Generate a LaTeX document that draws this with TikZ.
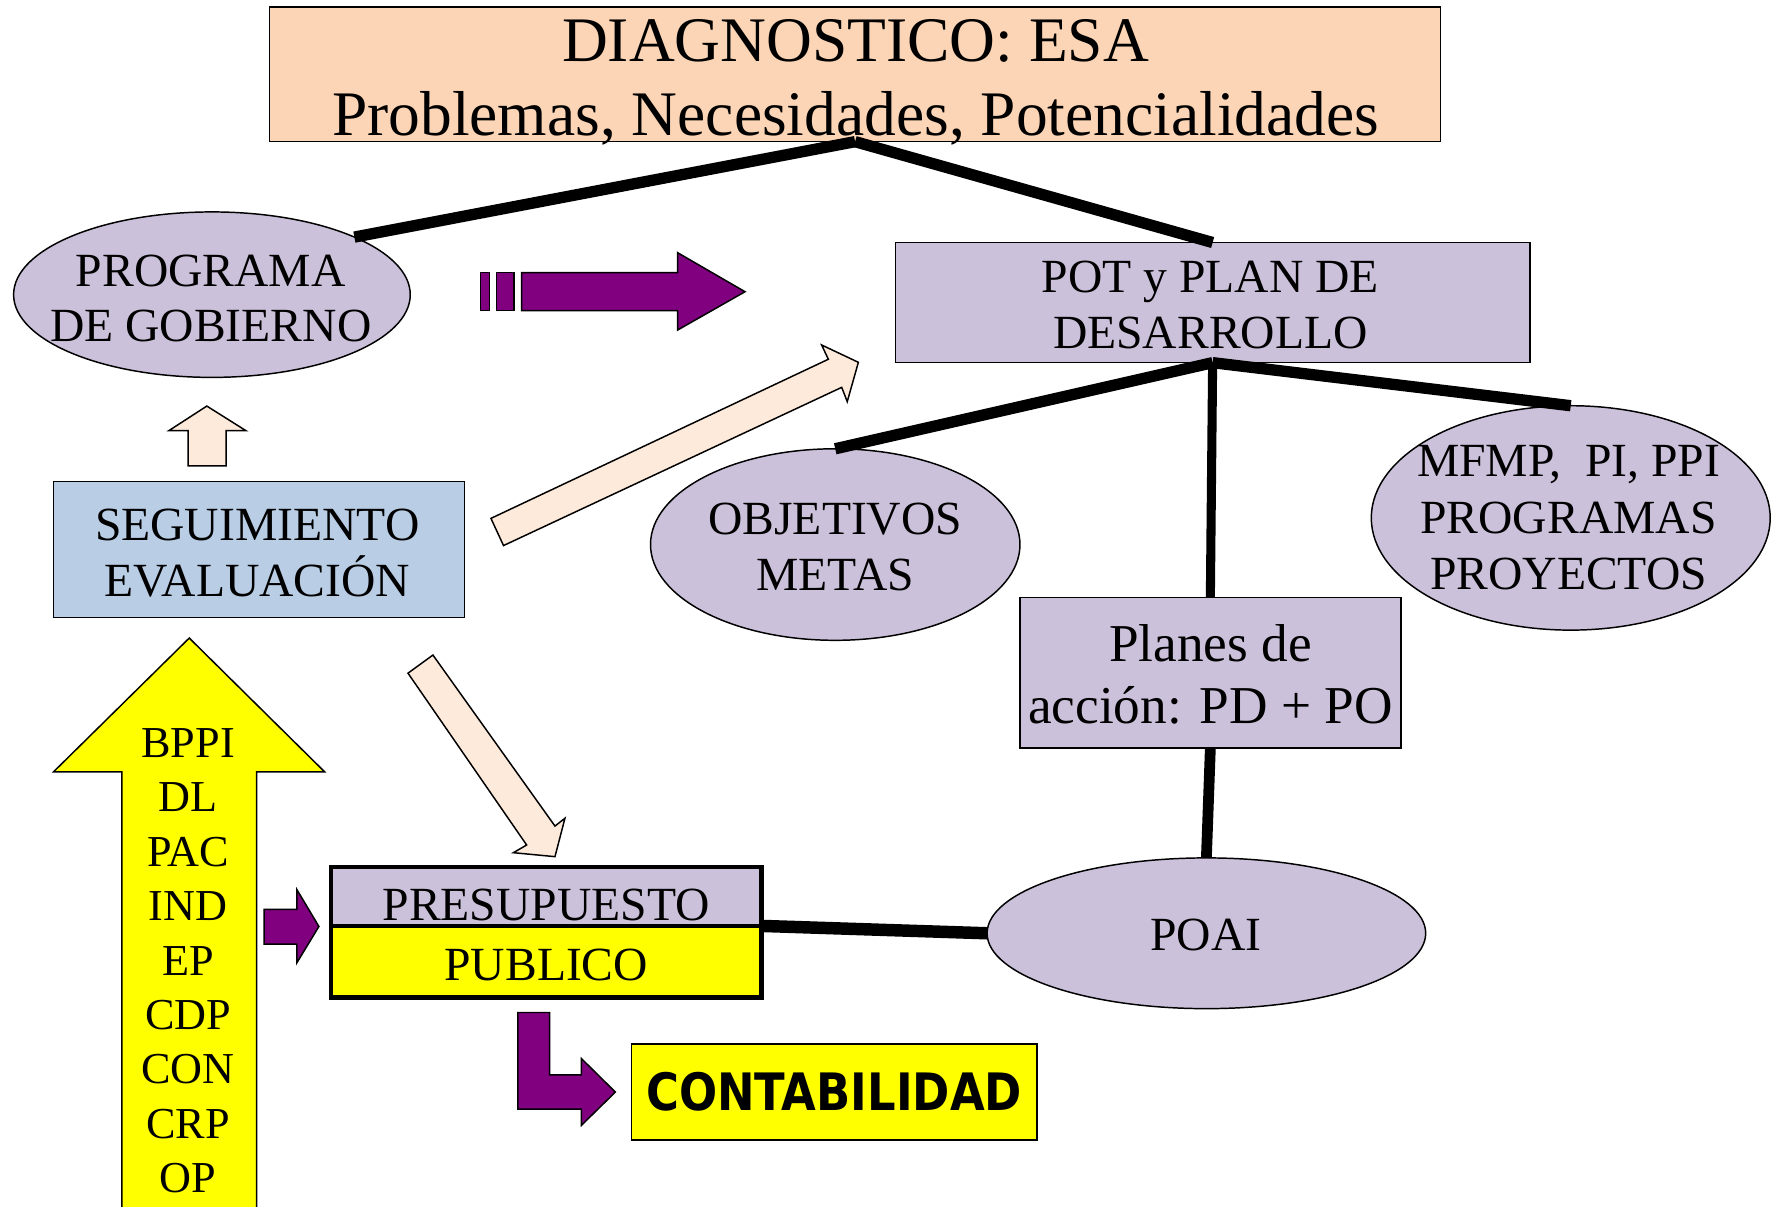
\documentclass[tikz,border=0pt]{standalone}
\usepackage{fontspec}
\usepackage{graphicx}
\setmainfont{Liberation Serif}
\newfontfamily\contfont{DejaVu Sans}
\usetikzlibrary{shapes.geometric}
\definecolor{peach}{HTML}{FBD5B5}
\definecolor{lav}{HTML}{CCC1DA}
\definecolor{lblue}{HTML}{B9CDE5}
\definecolor{pale}{HTML}{FDEADA}
\definecolor{purp}{HTML}{800080}
\definecolor{yel}{HTML}{FFFF00}
\tikzset{
  box/.style={rectangle, draw=black, line width=1.3pt, inner sep=0pt, outer sep=0pt},
  ell/.style={ellipse, draw=black, line width=1.3pt, fill=lav, inner sep=0pt, outer sep=0pt},
  txt/.style={inner sep=0pt, outer sep=0pt, align=center},
  conn/.style={line width=10pt, draw=black},
  connthin/.style={line width=8pt, draw=black},
  blockarrow/.style={draw=black, line width=1.3pt, line join=miter},
  fbig/.style={font=\fontsize{56}{65}\selectfont},
  fmid/.style={font=\fontsize{42}{50}\selectfont},
  flist/.style={font=\fontsize{39}{48}\selectfont},
}
\begin{document}
\begin{tikzpicture}[x=1pt,y=-1pt]
\useasboundingbox (0,0) rectangle (1568,1065);

% ---------- shapes ----------
\node[box, fill=peach, minimum width=1033pt, minimum height=119pt] (diag) at (754.5,65.5) {};
\node[ell, minimum width=350pt, minimum height=146pt] (prog) at (187,260) {};
\node[box, fill=lav, minimum width=560pt, minimum height=106pt] (pot) at (1070,267) {};
\node[ell, minimum width=326pt, minimum height=169pt] (obj) at (737,480.5) {};
\node[ell, minimum width=352pt, minimum height=198pt] (mfmp) at (1386,457) {};
\node[box, fill=lav, minimum width=336pt, minimum height=133pt] (planes) at (1068,593.5) {};
\node[ell, minimum width=387pt, minimum height=133pt] (poai) at (1064.5,823.5) {};
\node[box, fill=lblue, minimum width=363pt, minimum height=120pt] (seg) at (228.5,485) {};
\node[box, fill=lav, line width=4pt, minimum width=380pt, minimum height=52pt] (presA) at (482,791) {};
\node[box, fill=yel, line width=4pt, minimum width=380pt, minimum height=63pt] (presB) at (482,848.5) {};
\node[box, fill=yel, minimum width=358pt, minimum height=85pt,
      font=\contfont\bfseries\fontsize{45.5}{50}\selectfont] (cont) at (736,963.5) {\scalebox{0.87}[1]{CONTABILIDAD}};

% ---------- block arrows ----------
% striped purple arrow
\filldraw[blockarrow, fill=purp] (424,240.5) rectangle (432,274);
\filldraw[blockarrow, fill=purp] (438,240.5) rectangle (453.5,274);
\filldraw[blockarrow, fill=purp] (460.3,240.5) -- (598,240.5) -- (598,223) -- (657.4,257.4)
  -- (598,291.2) -- (598,274) -- (460.3,274) -- cycle;
% small up arrow above SEGUIMIENTO
\filldraw[blockarrow, fill=pale] (182.5,358.3) -- (217,380) -- (199.6,380) -- (199.6,411)
  -- (166,411) -- (166,380) -- (149,380) -- cycle;
% diagonal arrow to POT
\filldraw[blockarrow, fill=pale] (433.2,457.4) -- (730.9,317) -- (725,304.4) -- (757.4,319.7)
  -- (747.6,354.4) -- (742.7,341.8) -- (444.3,481.4) -- cycle;
% diagonal arrow to PRESUPUESTO
\filldraw[blockarrow, fill=pale] (360,594) -- (464.7,745.6) -- (453,752.4) -- (489.7,755.9)
  -- (498.5,722) -- (489.7,728.9) -- (382,578) -- cycle;
% big yellow arrow
\filldraw[blockarrow, fill=yel] (167,563) -- (286.4,681) -- (226.5,681) -- (226.5,1080)
  -- (107.5,1080) -- (107.5,681) -- (47.3,681) -- cycle;
% small purple arrow to PRESUPUESTO
\filldraw[blockarrow, fill=purp] (233,802.5) -- (262,802.5) -- (262,785) -- (281.4,817.5)
  -- (262,849.5) -- (262,833) -- (233,833) -- cycle;
% L-shaped purple arrow to CONTABILIDAD
\filldraw[blockarrow, fill=purp] (457,893.4) -- (485,893.4) -- (485,948.5) -- (513,948.5)
  -- (513,934) -- (543,963.6) -- (513,993) -- (513,978.6) -- (457,978.6) -- cycle;

% ---------- texts ----------
\node[txt, fbig, anchor=north] (diagT) at (755,17.5) {DIAGNOSTICO: ESA\\Problemas, Necesidades, Potencialidades};
\node[txt, fmid, anchor=north] (progT) at (186,224.9) {PROGRAMA\\[-1pt]DE GOBIERNO};
\node[txt, fmid, anchor=north] (potT) at (1068,229.9) {POT y PLAN DE\\DESARROLLO};
\node[txt, fmid, anchor=north] (objT) at (737,443.9) {OBJETIVOS\\[-1pt]METAS};
\node[txt, fmid, anchor=north] (mfmpT) at (1384,392.9) {MFMP,\ \ PI, PPI\\PROGRAMAS\\PROYECTOS};
\node[txt, font=\fontsize{47}{55}\selectfont, anchor=north] (planesT) at (1068,550.9) {Planes de\\acción: PD + PO};
\node[txt, fmid, anchor=north] (segT) at (227,448.9) {SEGUIMIENTO\\EVALUACIÓN};
\node[txt, fmid, anchor=base] (presAT) at (482,812) {PRESUPUESTO};
\node[txt, fmid, anchor=base] (presBT) at (482,865) {PUBLICO};
\node[txt, fmid, anchor=base] (poaiT) at (1064,839) {POAI};
\node[txt, flist, anchor=north] (listT) at (166,642.9) {BPPI\\DL\\PAC\\IND\\EP\\CDP\\CON\\CRP\\OP};

% ---------- connectors ----------
\draw[conn] (diag.south) -- (prog.22);
\draw[conn] (diag.south) -- (pot.north);
\draw[conn] (pot.south) -- (obj.north);
\draw[conn] (pot.south) -- (mfmp.north);
\draw[connthin] (pot.south) -- (planes.north);
\draw[line width=9.5pt] (planes.south) -- (poai.north);
\draw[line width=11pt] (presB.north east) -- (poai.west);
\end{tikzpicture}
\end{document}
